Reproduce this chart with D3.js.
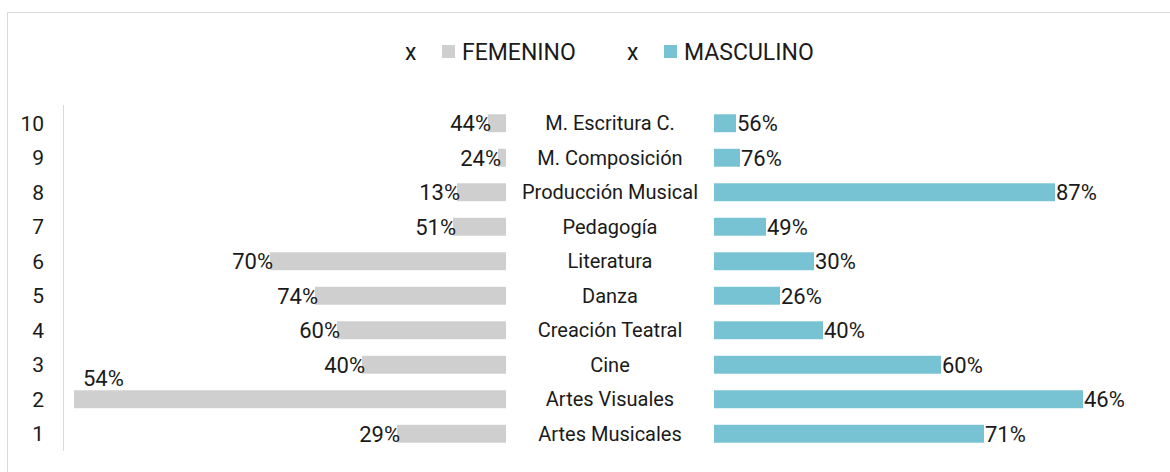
<!DOCTYPE html>
<html lang="es">
<head>
  <meta charset="UTF-8">
  <title>Femenino / Masculino por área</title>
  <style>
    body { margin: 0; background: #fff; }
    svg { display: block; }
    text { font-family: Roboto, "DejaVu Sans", sans-serif; fill: #1a1a1a; }
  </style>
</head>
<body>
  <svg></svg>

  <script src="https://d3js.org/d3.v7.min.js"></script>
  <script>
    // filas de abajo (1) hacia arriba (10)
    const rows = ["1", "2", "3", "4", "5", "6", "7", "8", "9", "10"];
    const categories = ["Artes Musicales", "Artes Visuales", "Cine", "Creación Teatral", "Danza",
      "Literatura", "Pedagogía", "Producción Musical", "M. Composición", "M. Escritura C."];
    const femenino = [109, 432, 144, 169, 191, 236, 53, 49, 8, 18];
    const masculino = [270, 369, 227, 109, 66, 100, 52, 341, 26, 22];
    const femeninoPct = ["29%", "54%", "40%", "60%", "74%", "70%", "51%", "13%", "24%", "44%"];
    const masculinoPct = ["71%", "46%", "60%", "40%", "26%", "30%", "49%", "87%", "76%", "56%"];

    const width = 1170, height = 472;
    const gray = "#d0cfcf", teal = "#77c3d3";

    const data = rows.map((r, i) => ({
      row: r, cat: categories[i],
      f: femenino[i], m: masculino[i],
      fp: femeninoPct[i], mp: masculinoPct[i]
    }));

    const svg = d3.select("svg")
      .attr("width", width)
      .attr("height", height);

    svg.append("rect")
      .attr("x", 7.5).attr("y", 12.5)
      .attr("width", width).attr("height", height)
      .attr("fill", "none").attr("stroke", "#d9d9d9");

    const maxV = d3.max([...femenino, ...masculino]);
    const xLeft = d3.scaleLinear().domain([0, maxV]).range([506, 74]);
    const xRight = d3.scaleLinear().domain([0, maxV]).range([714, 714 + 432]);
    const y = d3.scaleBand()
      .domain(rows.slice().reverse())
      .range([106, 451])
      .paddingInner(0.48)
      .paddingOuter(0.24);

    // eje izquierdo
    svg.append("line")
      .attr("x1", 63.5).attr("x2", 63.5)
      .attr("y1", 105).attr("y2", 451)
      .attr("stroke", "#d9d9d9");

    const cy = d => y(d.row) + y.bandwidth() / 2;

    svg.selectAll(".rowlab").data(data).enter().append("text")
      .attr("x", 44).attr("y", cy).attr("dy", "0.36em")
      .attr("text-anchor", "end").attr("font-size", 21)
      .text(d => d.row);

    svg.selectAll(".catlab").data(data).enter().append("text")
      .attr("x", 610).attr("y", cy).attr("dy", "0.36em")
      .attr("text-anchor", "middle").attr("font-size", 20)
      .text(d => d.cat);

    svg.selectAll(".fbar").data(data).enter().append("rect")
      .attr("x", d => xLeft(d.f))
      .attr("y", d => y(d.row))
      .attr("width", d => xLeft(0) - xLeft(d.f))
      .attr("height", y.bandwidth())
      .attr("fill", gray);

    svg.selectAll(".mbar").data(data).enter().append("rect")
      .attr("x", xRight(0))
      .attr("y", d => y(d.row))
      .attr("width", d => xRight(d.m) - xRight(0))
      .attr("height", y.bandwidth())
      .attr("fill", teal);

    // etiquetas femenino: al final de la barra, o encima si no cabe
    svg.selectAll(".flab").data(data).enter().append("text")
      .attr("font-size", 22)
      .each(function(d) {
        const t = d3.select(this).text(d.fp);
        const xs = xLeft(d.f);
        if (xs - 50 < 63) {
          t.attr("x", xs + 9).attr("y", cy(d) - 21).attr("dy", "0.36em").attr("text-anchor", "start");
        } else {
          t.attr("x", xs + 3).attr("y", cy(d)).attr("dy", "0.36em").attr("text-anchor", "end");
        }
      });

    svg.selectAll(".mlab").data(data).enter().append("text")
      .attr("x", d => xRight(d.m) + 1)
      .attr("y", cy).attr("dy", "0.36em")
      .attr("font-size", 22)
      .text(d => d.mp);

    // leyenda
    const legend = svg.append("g").attr("font-size", 23);
    [["FEMENINO", gray, 405], ["MASCULINO", teal, 627]].forEach(([name, col, x0]) => {
      legend.append("text").attr("x", x0).attr("y", 52).attr("dy", "0.36em").text("x");
      legend.append("rect").attr("x", x0 + 37).attr("y", 45).attr("width", 13).attr("height", 13).attr("fill", col);
      legend.append("text").attr("x", x0 + 57).attr("y", 52).attr("dy", "0.36em").text(name);
    });
  </script>
</body>
</html>
